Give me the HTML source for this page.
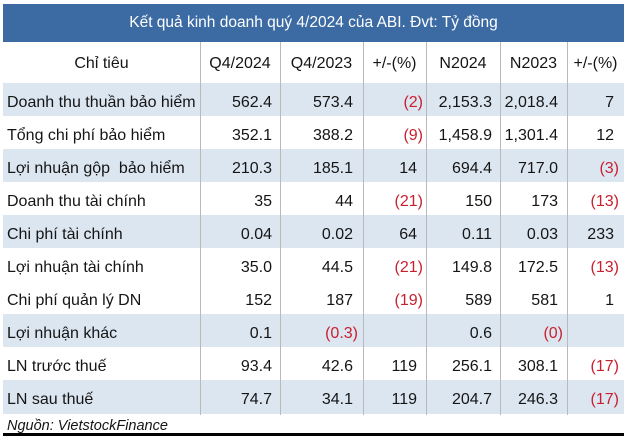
<!DOCTYPE html>
<html>
<head>
<meta charset="utf-8">
<style>
html,body{margin:0;padding:0;}
body{width:626px;height:441px;background:#fff;position:relative;overflow:hidden;font-family:"Liberation Sans",Arial,sans-serif;color:#151515;}
.title{position:absolute;left:3px;top:4px;width:621px;height:38px;background:#3c6ba4;color:#fff;font-size:15.5px;line-height:38px;text-align:center;white-space:nowrap;}
.stripe{position:absolute;left:3px;width:621px;height:33px;background:#dce6f1;}
.vl{position:absolute;top:42px;width:1px;height:373px;background:#b9b9b9;}
.h{position:absolute;top:43px;height:42px;line-height:42px;font-size:16px;text-align:center;white-space:nowrap;}
.lab{position:absolute;left:7px;height:33px;line-height:33px;font-size:16px;white-space:nowrap;}
.n{position:absolute;height:33px;line-height:33px;font-size:16px;white-space:nowrap;text-align:right;}
.r{color:#c9202f;}
.foot{position:absolute;left:7px;top:417px;font-size:14.5px;font-style:italic;line-height:18px;white-space:nowrap;}
.bl{position:absolute;left:3px;top:433px;width:621px;height:3px;background:#000;}
</style>
</head>
<body>
<div class="title">Kết quả kinh doanh quý 4/2024 của ABI. Đvt: Tỷ đồng</div>

<div class="stripe" style="top:83px"></div>
<div class="stripe" style="top:149px"></div>
<div class="stripe" style="top:215px"></div>
<div class="stripe" style="top:314px"></div>
<div class="stripe" style="top:380px;height:34px"></div>

<div class="vl" style="left:200px"></div>
<div class="vl" style="left:280px"></div>
<div class="vl" style="left:363px"></div>
<div class="vl" style="left:426px"></div>
<div class="vl" style="left:500px"></div>
<div class="vl" style="left:567px"></div>

<div class="h" style="left:3px;width:197px">Chỉ tiêu</div>
<div class="h" style="left:200px;width:80px">Q4/2024</div>
<div class="h" style="left:280px;width:83px">Q4/2023</div>
<div class="h" style="left:363px;width:63px">+/-(%)</div>
<div class="h" style="left:426px;width:74px">N2024</div>
<div class="h" style="left:500px;width:67px">N2023</div>
<div class="h" style="left:567px;width:57px">+/-(%)</div>

<!-- Row 1 -->
<div class="lab" style="top:86px">Doanh thu thuần bảo hiểm</div>
<div class="n" style="top:86px;right:354px">562.4</div>
<div class="n" style="top:86px;right:273px">573.4</div>
<div class="n r" style="top:86px;right:203px">(2)</div>
<div class="n" style="top:86px;right:134px">2,153.3</div>
<div class="n" style="top:86px;right:68px">2,018.4</div>
<div class="n" style="top:86px;right:12px">7</div>

<!-- Row 2 -->
<div class="lab" style="top:119px">Tổng chi phí bảo hiểm</div>
<div class="n" style="top:119px;right:354px">352.1</div>
<div class="n" style="top:119px;right:273px">388.2</div>
<div class="n r" style="top:119px;right:203px">(9)</div>
<div class="n" style="top:119px;right:134px">1,458.9</div>
<div class="n" style="top:119px;right:68px">1,301.4</div>
<div class="n" style="top:119px;right:12px">12</div>

<!-- Row 3 -->
<div class="lab" style="top:152px">Lợi nhuận gộp&nbsp; bảo hiểm</div>
<div class="n" style="top:152px;right:354px">210.3</div>
<div class="n" style="top:152px;right:273px">185.1</div>
<div class="n" style="top:152px;right:209px">14</div>
<div class="n" style="top:152px;right:134px">694.4</div>
<div class="n" style="top:152px;right:68px">717.0</div>
<div class="n r" style="top:152px;right:7px">(3)</div>

<!-- Row 4 -->
<div class="lab" style="top:185px">Doanh thu tài chính</div>
<div class="n" style="top:185px;right:354px">35</div>
<div class="n" style="top:185px;right:273px">44</div>
<div class="n r" style="top:185px;right:203px">(21)</div>
<div class="n" style="top:185px;right:134px">150</div>
<div class="n" style="top:185px;right:68px">173</div>
<div class="n r" style="top:185px;right:7px">(13)</div>

<!-- Row 5 -->
<div class="lab" style="top:218px">Chi phí tài chính</div>
<div class="n" style="top:218px;right:354px">0.04</div>
<div class="n" style="top:218px;right:273px">0.02</div>
<div class="n" style="top:218px;right:209px">64</div>
<div class="n" style="top:218px;right:134px">0.11</div>
<div class="n" style="top:218px;right:68px">0.03</div>
<div class="n" style="top:218px;right:12px">233</div>

<!-- Row 6 -->
<div class="lab" style="top:251px">Lợi nhuận tài chính</div>
<div class="n" style="top:251px;right:354px">35.0</div>
<div class="n" style="top:251px;right:273px">44.5</div>
<div class="n r" style="top:251px;right:203px">(21)</div>
<div class="n" style="top:251px;right:134px">149.8</div>
<div class="n" style="top:251px;right:68px">172.5</div>
<div class="n r" style="top:251px;right:7px">(13)</div>

<!-- Row 7 -->
<div class="lab" style="top:284px">Chi phí quản lý DN</div>
<div class="n" style="top:284px;right:354px">152</div>
<div class="n" style="top:284px;right:273px">187</div>
<div class="n r" style="top:284px;right:203px">(19)</div>
<div class="n" style="top:284px;right:134px">589</div>
<div class="n" style="top:284px;right:68px">581</div>
<div class="n" style="top:284px;right:12px">1</div>

<!-- Row 8 -->
<div class="lab" style="top:317px">Lợi nhuận khác</div>
<div class="n" style="top:317px;right:354px">0.1</div>
<div class="n r" style="top:317px;right:268px">(0.3)</div>
<div class="n" style="top:317px;right:134px">0.6</div>
<div class="n r" style="top:317px;right:63px">(0)</div>

<!-- Row 9 -->
<div class="lab" style="top:350px">LN trước thuế</div>
<div class="n" style="top:350px;right:354px">93.4</div>
<div class="n" style="top:350px;right:273px">42.6</div>
<div class="n" style="top:350px;right:209px">119</div>
<div class="n" style="top:350px;right:134px">256.1</div>
<div class="n" style="top:350px;right:68px">308.1</div>
<div class="n r" style="top:350px;right:7px">(17)</div>

<!-- Row 10 -->
<div class="lab" style="top:383px">LN sau thuế</div>
<div class="n" style="top:383px;right:354px">74.7</div>
<div class="n" style="top:383px;right:273px">34.1</div>
<div class="n" style="top:383px;right:209px">119</div>
<div class="n" style="top:383px;right:134px">204.7</div>
<div class="n" style="top:383px;right:68px">246.3</div>
<div class="n r" style="top:383px;right:7px">(17)</div>

<div class="foot">Nguồn: VietstockFinance</div>
<div class="bl"></div>
</body>
</html>
